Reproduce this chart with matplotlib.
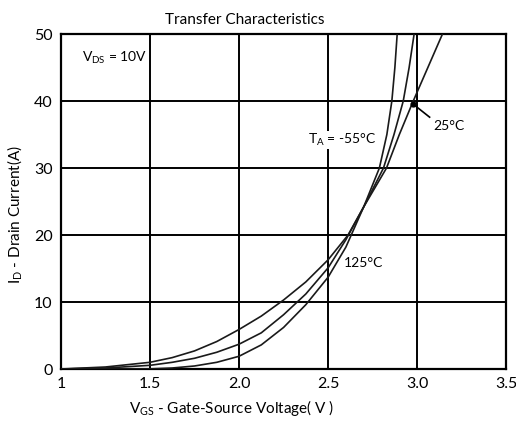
import matplotlib
matplotlib.use("Agg")
import matplotlib.pyplot as plt

plt.rcParams['font.family'] = ['Lato', 'DejaVu Sans']
plt.rcParams['mathtext.fontset'] = 'custom'
plt.rcParams['mathtext.rm'] = 'Lato'

vgs_n55 = [1.0, 1.25, 1.5, 1.625, 1.75, 1.875, 2.0, 2.125, 2.25, 2.375, 2.5, 2.6, 2.7, 2.788, 2.83, 2.858, 2.875, 2.888]
id_n55 = [0, 0, 0.02, 0.15, 0.45, 1.0, 1.9, 3.6, 6.2, 9.6, 13.7, 18.2, 24.2, 30, 35, 40, 45, 50]

vgs_25 = [1.0, 1.25, 1.5, 1.625, 1.75, 1.875, 2.0, 2.125, 2.25, 2.375, 2.5, 2.6, 2.7, 2.811, 2.87, 2.922, 2.955, 2.983]
id_25 = [0, 0.15, 0.55, 1.0, 1.6, 2.5, 3.7, 5.4, 8.1, 11.2, 15.1, 19.3, 24.2, 30, 35, 40, 45, 50]

vgs_125 = [1.0, 1.25, 1.5, 1.625, 1.75, 1.875, 2.0, 2.125, 2.25, 2.375, 2.5, 2.612, 2.7, 2.828, 2.9, 2.978, 3.06, 3.142]
id_125 = [0, 0.3, 1.0, 1.7, 2.7, 4.1, 5.9, 7.9, 10.3, 13.0, 16.3, 20, 24.2, 30, 35, 40, 45, 50]

x_ticks = [1, 1.5, 2.0, 2.5, 3.0, 3.5]
x_labels = ["1", "1.5", "2.0", "2.5", "3.0", "3.5"]
y_ticks = [0, 10, 20, 30, 40, 50]

fig = plt.figure(figsize=(5.16, 4.21), dpi=100)
ax = fig.add_axes([0.118, 0.1235, 0.863, 0.7955])

for v, i in [(vgs_n55, id_n55), (vgs_25, id_25), (vgs_125, id_125)]:
    ax.plot(v, i, color='#1a1a1a', lw=1.2, zorder=3)

ax.set_xlim(1, 3.5)
ax.set_ylim(0, 50)
ax.set_xticks(x_ticks)
ax.set_xticklabels(x_labels)
ax.set_yticks(y_ticks)
ax.tick_params(length=0, labelsize=11.5, pad=6)
ax.grid(color='black', lw=1.4)
for s in ax.spines.values():
    s.set_linewidth(1.6)

ax.set_title("Transfer Characteristics", fontsize=11, x=0.413, pad=7)
ax.set_xlabel(r"V$_{\rm GS}$ - Gate-Source Voltage( V )", fontsize=11)
ax.xaxis.label.set_va('center')
ax.xaxis.set_label_coords(0.384, -0.116)
ax.set_ylabel(r"I$_{\rm D}$ - Drain Current(A)", fontsize=11)
ax.yaxis.label.set_va('center')
ax.yaxis.set_label_coords(-0.103, 0.46)

# Beschriftungen im Diagramm
ax.text(1.12, 46.5, r"V$_{\rm DS}$ = 10V", fontsize=10, va='center')
ax.text(2.386, 34.2, r"T$_{\rm A}$ = -55°C", fontsize=10, va='center',
        bbox=dict(facecolor='white', edgecolor='none', pad=0.5), zorder=2)
ax.text(3.09, 36.3, "25°C", fontsize=10, va='center')
ax.plot([2.975, 3.07], [39.6, 37.6], color='black', lw=1.2, zorder=4)
ax.plot([2.975], [39.6], 'o', color='black', ms=3.5, zorder=4)
ax.text(2.59, 15.8, "125°C", fontsize=10, va='center')

fig.savefig("out.png", dpi=100)
